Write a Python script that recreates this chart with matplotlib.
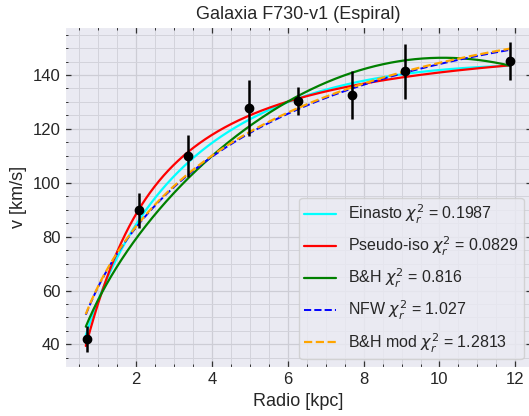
import numpy as np
import matplotlib
matplotlib.use("Agg")
import matplotlib.pyplot as plt
from matplotlib.ticker import MultipleLocator
import seaborn as sns

# Observed rotation curve of F730-v1
r_obs = [0.71, 2.08, 3.38, 4.97, 6.28, 7.68, 9.08, 11.87]   # kpc
v_obs = [42.0, 89.8, 110.0, 127.7, 130.2, 132.6, 141.4, 145.2]  # km/s
v_err = [5.0, 6.5, 7.8, 10.3, 5.2, 9.0, 10.2, 7.0]

# Best-fit halo parameters
einasto_par = [23.3, 6.85, 0.44]          # K, r_-2, alpha
piso_par = [158.5, 1.47]                  # V_inf, r_c
bh_par = [56.63, 0.48908, 18.992, 2.7042]  # A, p, r_d, q
nfw_par = [355.3, 15.38]                  # V_0, r_s
bhmod_par = [356.08, 15.316]              # V_0, r_s

chi2 = {"Einasto": "0.1987", "Pseudo-iso": "0.0829", "B&H": "0.816",
        "NFW": "1.027", "B&H mod": "1.2813"}


def v_einasto(r, K, r2, alpha):
    rho = np.exp(-2 / alpha * ((r / r2) ** alpha - 1))
    f = rho * r ** 2
    m = np.concatenate([[0], np.cumsum(0.5 * (f[1:] + f[:-1]) * np.diff(r))])
    return K * np.sqrt(m / r)


def v_piso(r, vinf, rc):
    return vinf * np.sqrt(1 - (rc / r) * np.arctan(r / rc))


def v_bh(r, A, p, rd, q):
    return A * r ** p * np.exp(-(r / rd) ** q)


def v_nfw(r, v0, rs):
    y = r / rs
    return v0 * np.sqrt((np.log1p(y) - y / (1 + y)) / y)


sns.set_style("darkgrid")
plt.rcParams["font.family"] = ["Liberation Sans", "DejaVu Sans"]

fig = plt.figure(figsize=(5.29, 4.16), dpi=100)
ax = fig.add_axes([0.1234, 0.1171, 0.8815, 0.8173])

# Einasto mass is integrated from the centre, then cut to the data range
r_full = np.linspace(1e-4, r_obs[-1], 4000)
v_ein = v_einasto(r_full, *einasto_par)
sel = r_full >= 0.67
r = r_full[sel]

ax.plot(r, v_ein[sel], color="cyan", lw=1.6, label=r"Einasto $\chi_r^2$ = " + chi2["Einasto"])
ax.plot(r, v_piso(r, *piso_par), color="red", lw=1.6, label=r"Pseudo-iso $\chi_r^2$ = " + chi2["Pseudo-iso"])
ax.plot(r, v_bh(r, *bh_par), color="green", lw=1.6, label=r"B&H $\chi_r^2$ = " + chi2["B&H"])
ax.plot(r, v_nfw(r, *nfw_par), color="blue", lw=1.4, ls="--", label=r"NFW $\chi_r^2$ = " + chi2["NFW"])
ax.plot(r, v_nfw(r, *bhmod_par), color="orange", lw=1.6, ls="--", label=r"B&H mod $\chi_r^2$ = " + chi2["B&H mod"])

ax.errorbar(r_obs, v_obs, yerr=v_err, fmt="o", color="black", ms=6,
            elinewidth=1.8, capsize=0, zorder=5)

ax.set_xlim(0.13, 12.43)
ax.set_ylim(31.5, 157.7)
ax.xaxis.set_major_locator(MultipleLocator(2))
ax.xaxis.set_minor_locator(MultipleLocator(0.5))
ax.yaxis.set_major_locator(MultipleLocator(20))
ax.yaxis.set_minor_locator(MultipleLocator(5))
ax.grid(which="major", color="#cdcdd5", lw=0.9)
ax.grid(which="minor", color="#d3d3db", lw=0.7)
ax.tick_params(which="both", direction="in", top=True, right=True, bottom=True, left=True,
               color="#333333", labelsize=12, labelcolor="#262626")
ax.tick_params(which="major", length=4, width=0.9)
ax.tick_params(which="minor", length=2, width=0.7)

ax.set_title("Galaxia F730-v1 (Espiral)", fontsize=13, color="#262626")
ax.set_xlabel("Radio [kpc]", fontsize=13, color="#262626")
ax.set_ylabel("v [km/s]", fontsize=13, color="#262626")
ax.legend(loc="lower right", fontsize=11.5, labelspacing=0.56, handlelength=2.0,
          handletextpad=0.75, borderpad=0.3)

fig.savefig("out.png")
